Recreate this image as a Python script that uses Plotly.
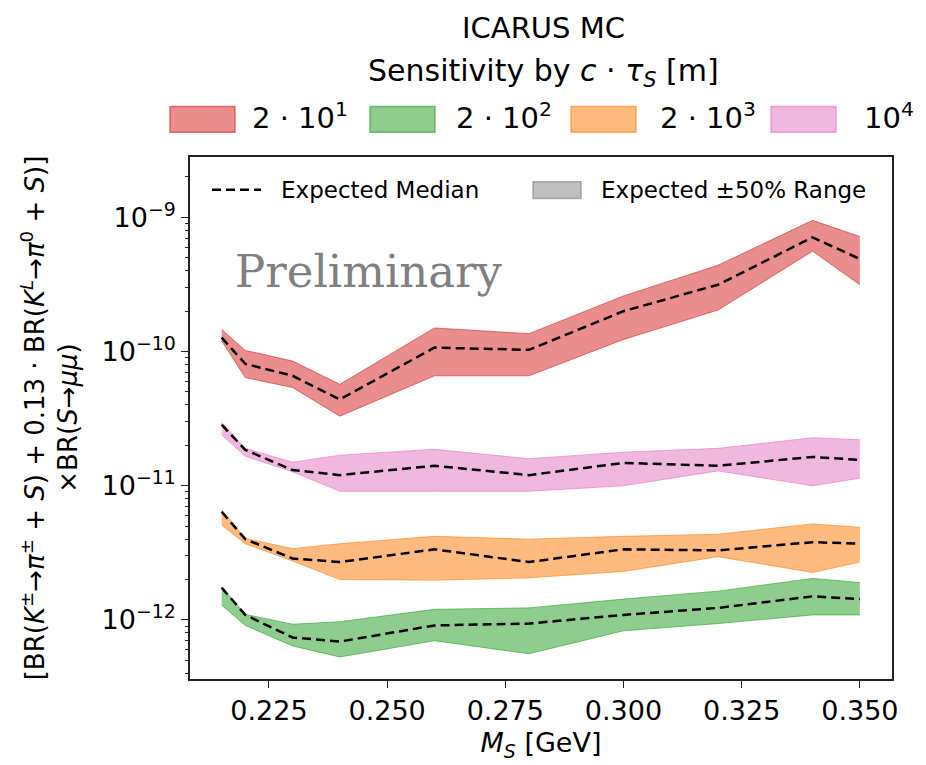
import plotly.graph_objects as go

# ---- data ----
mass = [0.215, 0.22, 0.23, 0.24, 0.26, 0.28, 0.30, 0.32, 0.34, 0.35]

ctau_labels = ["2 · 10<sup>1</sup>", "2 · 10<sup>2</sup>", "2 · 10<sup>3</sup>", "10<sup>4</sup>"]

red_med = [1.27e-10, 8.1e-11, 6.6e-11, 4.4e-11, 1.07e-10, 1.03e-10, 2.0e-10, 3.15e-10, 7.1e-10, 4.9e-10]
red_lo = [1.2e-10, 6.4e-11, 5.4e-11, 3.3e-11, 6.6e-11, 6.6e-11, 1.23e-10, 2.04e-10, 5.6e-10, 3.15e-10]
red_hi = [1.46e-10, 1.02e-10, 8.5e-11, 5.7e-11, 1.5e-10, 1.36e-10, 2.6e-10, 4.4e-10, 9.5e-10, 7.2e-10]

green_med = [1.74e-12, 1.09e-12, 7.4e-13, 6.9e-13, 9.1e-13, 9.4e-13, 1.09e-12, 1.23e-12, 1.5e-12, 1.43e-12]
green_lo = [1.29e-12, 9.1e-13, 6.4e-13, 5.3e-13, 7.0e-13, 5.6e-13, 8.3e-13, 9.4e-13, 1.09e-12, 1.09e-12]
green_hi = [1.76e-12, 1.1e-12, 9.3e-13, 9.7e-13, 1.2e-12, 1.23e-12, 1.43e-12, 1.64e-12, 2.04e-12, 1.9e-12]

orange_med = [6.4e-12, 4.0e-12, 2.87e-12, 2.7e-12, 3.36e-12, 2.7e-12, 3.36e-12, 3.3e-12, 3.8e-12, 3.7e-12]
orange_lo = [5.1e-12, 3.7e-12, 2.75e-12, 2.0e-12, 1.98e-12, 2.06e-12, 2.3e-12, 2.96e-12, 2.26e-12, 2.7e-12]
orange_hi = [6.6e-12, 4.05e-12, 3.4e-12, 3.7e-12, 4.2e-12, 4.0e-12, 4.2e-12, 4.35e-12, 5.2e-12, 4.9e-12]

pink_med = [2.85e-11, 1.85e-11, 1.31e-11, 1.2e-11, 1.41e-11, 1.2e-11, 1.48e-11, 1.41e-11, 1.64e-11, 1.56e-11]
pink_lo = [2.4e-11, 1.66e-11, 1.27e-11, 9.1e-12, 9.1e-12, 9.1e-12, 1.0e-11, 1.29e-11, 1.0e-11, 1.14e-11]
pink_hi = [2.95e-11, 1.9e-11, 1.5e-11, 1.69e-11, 1.87e-11, 1.59e-11, 1.78e-11, 1.9e-11, 2.28e-11, 2.2e-11]

y_tickvals = [1e-12, 1e-11, 1e-10, 1e-9]
y_ticktext = ["10<sup>−12</sup>", "10<sup>−11</sup>", "10<sup>−10</sup>", "10<sup>−9</sup>"]
y_minor_decades = [1e-13, 1e-12, 1e-11, 1e-10, 1e-9]
y_minor_digits = [2, 3, 4, 5, 6, 7, 8, 9]
x_tickvals = [0.225, 0.250, 0.275, 0.300, 0.325, 0.350]
x_ticktext = ["0.225", "0.250", "0.275", "0.300", "0.325", "0.350"]

series = [
    (red_lo, red_hi, red_med, (214, 39, 40)),
    (green_lo, green_hi, green_med, (44, 160, 44)),
    (orange_lo, orange_hi, orange_med, (255, 127, 14)),
    (pink_lo, pink_hi, pink_med, (227, 119, 194)),
]

FONT = "DejaVu Sans"
W, H = 926, 765
L, R, T, B = 190, 892, 157, 684
Y_RANGE = [-12.44, -8.55]


def px(x):
    return (x - L) / (R - L)


def py(y):
    return (B - y) / (B - T)


def rgba(c, a):
    return "rgba(%d,%d,%d,%.2f)" % (c[0], c[1], c[2], a)


fig = go.Figure()
for lo, hi, med, c in series:
    fig.add_trace(go.Scatter(x=mass, y=lo, mode="lines",
                             line=dict(color=rgba(c, 0.6), width=1),
                             showlegend=False, hoverinfo="skip"))
    fig.add_trace(go.Scatter(x=mass, y=hi, mode="lines", fill="tonexty",
                             fillcolor=rgba(c, 0.53),
                             line=dict(color=rgba(c, 0.6), width=1),
                             showlegend=False, hoverinfo="skip"))
# medians are drawn on the overlay axis (identical range), which also carries the minor ticks
for lo, hi, med, c in series:
    fig.add_trace(go.Scatter(x=mass, y=med, mode="lines", yaxis="y2",
                             line=dict(color="black", width=2.5, dash="9px,5px"),
                             showlegend=False))

shapes = []
annotations = []


def note(text, x, y, size, xanchor="center", family=FONT, color="black"):
    annotations.append(dict(text=text, x=px(x), y=py(y), xref="paper", yref="paper",
                            xanchor=xanchor, yanchor="middle", showarrow=False,
                            font=dict(family=family, size=size, color=color)))


# titles
note("ICARUS MC", 543, 27, 29)
note("Sensitivity by <i>c</i> · <i>τ<sub>S</sub></i> [m]", 543, 72, 30)

# top legend
leg_patch_x = [170, 370, 571, 771]
leg_text_x = [250, 454, 658, 862]
for (lo, hi, med, c), x0, tx, lab in zip(series, leg_patch_x, leg_text_x, ctau_labels):
    shapes.append(dict(type="rect", xref="paper", yref="paper", x0=px(x0), x1=px(x0 + 65),
                       y0=py(132), y1=py(106), fillcolor=rgba(c, 0.53),
                       line=dict(color=rgba(c, 0.6), width=1.5)))
    note(lab, tx, 116, 29, xanchor="left")

# inner legend
shapes.append(dict(type="line", xref="paper", yref="paper", x0=px(212), x1=px(261),
                   y0=py(190), y1=py(190), line=dict(color="black", width=2.5, dash="9px,5px")))
note("Expected Median", 279, 190, 23, xanchor="left")
shapes.append(dict(type="rect", xref="paper", yref="paper", x0=px(533), x1=px(581),
                   y0=py(199), y1=py(182), fillcolor="rgba(128,128,128,0.5)",
                   line=dict(color="rgba(128,128,128,0.6)", width=1.5)))
note("Expected ±50% Range", 599, 190, 23, xanchor="left")

# watermark
note("Preliminary", 369, 273, 45, family="DejaVu Serif", color="#808080")

ylab = ("[BR(<i>K</i><sup>±</sup>→<i>π</i><sup>±</sup> + <i>S</i>) + 0.13 · "
        "BR(<i>K</i><sup><i>L</i></sup>→<i>π</i><sup>0</sup> + <i>S</i>)]<br>"
        "×BR(<i>S</i>→<i>μμ</i>)")

minor_vals = [d * k for d in y_minor_decades for k in y_minor_digits]

fig.update_layout(
    width=W, height=H,
    margin=dict(l=L, r=W - R, t=T, b=H - B, pad=0),
    paper_bgcolor="white", plot_bgcolor="white",
    shapes=shapes, annotations=annotations,
    showlegend=False,
    font=dict(family=FONT, color="black"),
    xaxis=dict(
        range=[0.2083, 0.3568], tickvals=x_tickvals, ticktext=x_ticktext,
        ticks="outside", ticklen=7, tickwidth=1.3, tickcolor="#222",
        showline=True, linecolor="#222", linewidth=1.6, mirror=True,
        showgrid=False, zeroline=False,
        tickfont=dict(family=FONT, size=27, color="black"),
        title=dict(text="<i>M<sub>S</sub></i> [GeV]",
                   font=dict(family=FONT, size=27, color="black"), standoff=8),
    ),
    yaxis=dict(
        type="log", range=Y_RANGE, tickvals=y_tickvals, ticktext=y_ticktext,
        ticks="outside", ticklen=7, tickwidth=1.3, tickcolor="#222",
        showline=True, linecolor="#222", linewidth=1.6, mirror=True,
        showgrid=False, zeroline=False,
        tickfont=dict(family=FONT, size=27, color="black"),
        title=dict(text=ylab, font=dict(family=FONT, size=26, color="black"), standoff=16),
    ),
    yaxis2=dict(
        type="log", range=Y_RANGE, overlaying="y", side="left", anchor="x",
        tickvals=minor_vals, ticks="outside", ticklen=4, tickwidth=1,
        tickcolor="#222", showticklabels=False, showgrid=False,
        showline=False, zeroline=False,
    ),
)

fig.write_html("out.html")
